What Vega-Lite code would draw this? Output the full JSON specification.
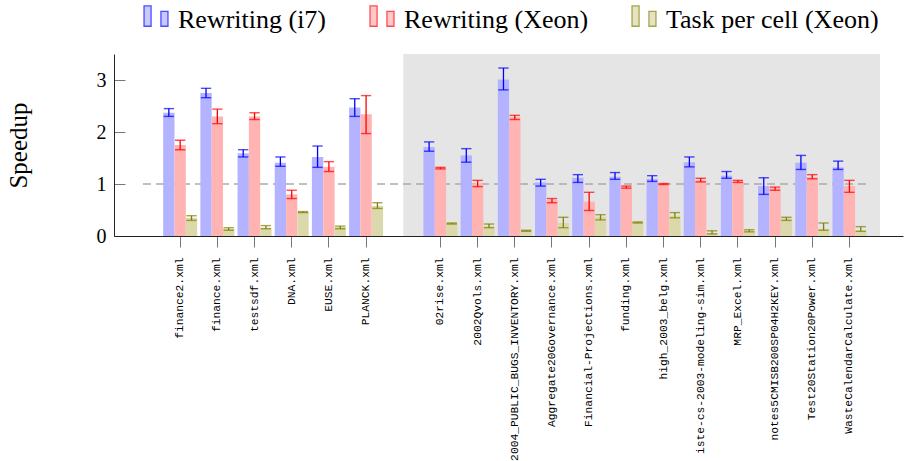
{
  "$schema": "https://vega.github.io/schema/vega-lite/v6.json",
  "width": 789,
  "height": 182,
  "autosize": {"type": "none"},
  "padding": {"left": 114, "top": 54, "right": 1, "bottom": 225},
  "background": "white",
  "config": {
    "view": {"stroke": null},
    "font": "Liberation Serif",
    "legend": {
      "orient": "none",
      "legendX": 28,
      "legendY": -48,
      "direction": "horizontal",
      "padding": 0,
      "columnPadding": 40,
      "labelOffset": 8,
      "symbolSize": 676,
      "symbolType": "M-0.92,-1.08H-0.38V0.48H-0.92Z M0.38,-0.67H0.92V0.48H0.38Z",
      "symbolStrokeWidth": 1.3,
      "labelFont": "Liberation Serif",
      "labelFontSize": 26,
      "labelColor": "#000000",
      "labelLimit": 500
    },
    "axisX": {
      "labelAngle": 270,
      "labelFont": "Liberation Mono",
      "labelFontSize": 11.3,
      "labelColor": "#000000",
      "labelPadding": 10,
      "labelLimit": 500,
      "labelOverlap": false,
      "labelBound": false,
      "tickSize": 11,
      "tickColor": "#777777",
      "domainColor": "#222222",
      "grid": false,
      "title": null
    },
    "axisY": {
      "grid": false,
      "tickSize": -11,
      "tickColor": "#777777",
      "domainColor": "#222222",
      "labelPadding": 19,
      "labelFont": "Liberation Serif",
      "labelFontSize": 20,
      "labelColor": "#000000",
      "titleFont": "Liberation Serif",
      "titleFontSize": 25,
      "titleFontWeight": "normal",
      "titleColor": "#000000",
      "titleAngle": 270,
      "titleX": -87.5,
      "titleY": 91,
      "titleAlign": "center",
      "titleBaseline": "alphabetic"
    }
  },
  "datasets": {
    "bars": [
      {"file": "finance2.xml", "series": "Rewriting (i7)", "v": 2.37, "lo": 2.30, "hi": 2.45},
      {"file": "finance2.xml", "series": "Rewriting (Xeon)", "v": 1.75, "lo": 1.66, "hi": 1.84},
      {"file": "finance2.xml", "series": "Task per cell (Xeon)", "v": 0.35, "lo": 0.30, "hi": 0.39},
      {"file": "finance.xml", "series": "Rewriting (i7)", "v": 2.75, "lo": 2.66, "hi": 2.84},
      {"file": "finance.xml", "series": "Rewriting (Xeon)", "v": 2.30, "lo": 2.16, "hi": 2.44},
      {"file": "finance.xml", "series": "Task per cell (Xeon)", "v": 0.14, "lo": 0.11, "hi": 0.16},
      {"file": "testsdf.xml", "series": "Rewriting (i7)", "v": 1.59, "lo": 1.52, "hi": 1.66},
      {"file": "testsdf.xml", "series": "Rewriting (Xeon)", "v": 2.30, "lo": 2.24, "hi": 2.37},
      {"file": "testsdf.xml", "series": "Task per cell (Xeon)", "v": 0.16, "lo": 0.14, "hi": 0.20},
      {"file": "DNA.xml", "series": "Rewriting (i7)", "v": 1.41, "lo": 1.34, "hi": 1.52},
      {"file": "DNA.xml", "series": "Rewriting (Xeon)", "v": 0.80, "lo": 0.72, "hi": 0.88},
      {"file": "DNA.xml", "series": "Task per cell (Xeon)", "v": 0.46, "lo": 0.45, "hi": 0.47},
      {"file": "EUSE.xml", "series": "Rewriting (i7)", "v": 1.52, "lo": 1.32, "hi": 1.73},
      {"file": "EUSE.xml", "series": "Rewriting (Xeon)", "v": 1.33, "lo": 1.24, "hi": 1.43},
      {"file": "EUSE.xml", "series": "Task per cell (Xeon)", "v": 0.17, "lo": 0.14, "hi": 0.19},
      {"file": "PLANCK.xml", "series": "Rewriting (i7)", "v": 2.47, "lo": 2.30, "hi": 2.64},
      {"file": "PLANCK.xml", "series": "Rewriting (Xeon)", "v": 2.34, "lo": 1.97, "hi": 2.70},
      {"file": "PLANCK.xml", "series": "Task per cell (Xeon)", "v": 0.58, "lo": 0.53, "hi": 0.64},
      {"file": "02rise.xml", "series": "Rewriting (i7)", "v": 1.71, "lo": 1.63, "hi": 1.81},
      {"file": "02rise.xml", "series": "Rewriting (Xeon)", "v": 1.31, "lo": 1.29, "hi": 1.32},
      {"file": "02rise.xml", "series": "Task per cell (Xeon)", "v": 0.24, "lo": 0.23, "hi": 0.25},
      {"file": "2002Qvols.xml", "series": "Rewriting (i7)", "v": 1.55, "lo": 1.42, "hi": 1.68},
      {"file": "2002Qvols.xml", "series": "Rewriting (Xeon)", "v": 1.01, "lo": 0.95, "hi": 1.07},
      {"file": "2002Qvols.xml", "series": "Task per cell (Xeon)", "v": 0.19, "lo": 0.16, "hi": 0.23},
      {"file": "2004_PUBLIC_BUGS_INVENTORY.xml", "series": "Rewriting (i7)", "v": 3.01, "lo": 2.81, "hi": 3.23},
      {"file": "2004_PUBLIC_BUGS_INVENTORY.xml", "series": "Rewriting (Xeon)", "v": 2.29, "lo": 2.24, "hi": 2.32},
      {"file": "2004_PUBLIC_BUGS_INVENTORY.xml", "series": "Task per cell (Xeon)", "v": 0.10, "lo": 0.09, "hi": 0.11},
      {"file": "Aggregate20Governance.xml", "series": "Rewriting (i7)", "v": 1.03, "lo": 0.96, "hi": 1.09},
      {"file": "Aggregate20Governance.xml", "series": "Rewriting (Xeon)", "v": 0.69, "lo": 0.64, "hi": 0.72},
      {"file": "Aggregate20Governance.xml", "series": "Task per cell (Xeon)", "v": 0.25, "lo": 0.16, "hi": 0.36},
      {"file": "Financial-Projections.xml", "series": "Rewriting (i7)", "v": 1.12, "lo": 1.03, "hi": 1.18},
      {"file": "Financial-Projections.xml", "series": "Rewriting (Xeon)", "v": 0.66, "lo": 0.49, "hi": 0.84},
      {"file": "Financial-Projections.xml", "series": "Task per cell (Xeon)", "v": 0.37, "lo": 0.31, "hi": 0.41},
      {"file": "funding.xml", "series": "Rewriting (i7)", "v": 1.14, "lo": 1.09, "hi": 1.22},
      {"file": "funding.xml", "series": "Rewriting (Xeon)", "v": 0.94, "lo": 0.92, "hi": 0.96},
      {"file": "funding.xml", "series": "Task per cell (Xeon)", "v": 0.27, "lo": 0.25, "hi": 0.27},
      {"file": "high_2003_belg.xml", "series": "Rewriting (i7)", "v": 1.10, "lo": 1.05, "hi": 1.16},
      {"file": "high_2003_belg.xml", "series": "Rewriting (Xeon)", "v": 1.00, "lo": 0.99, "hi": 1.01},
      {"file": "high_2003_belg.xml", "series": "Task per cell (Xeon)", "v": 0.39, "lo": 0.35, "hi": 0.45},
      {"file": "iste-cs-2003-modeling-sim.xml", "series": "Rewriting (i7)", "v": 1.42, "lo": 1.33, "hi": 1.52},
      {"file": "iste-cs-2003-modeling-sim.xml", "series": "Rewriting (Xeon)", "v": 1.08, "lo": 1.04, "hi": 1.11},
      {"file": "iste-cs-2003-modeling-sim.xml", "series": "Task per cell (Xeon)", "v": 0.06, "lo": 0.04, "hi": 0.10},
      {"file": "MRP_Excel.xml", "series": "Rewriting (i7)", "v": 1.16, "lo": 1.11, "hi": 1.24},
      {"file": "MRP_Excel.xml", "series": "Rewriting (Xeon)", "v": 1.06, "lo": 1.03, "hi": 1.07},
      {"file": "MRP_Excel.xml", "series": "Task per cell (Xeon)", "v": 0.10, "lo": 0.08, "hi": 0.12},
      {"file": "notes5CMISB200SP04H2KEY.xml", "series": "Rewriting (i7)", "v": 0.96, "lo": 0.80, "hi": 1.12},
      {"file": "notes5CMISB200SP04H2KEY.xml", "series": "Rewriting (Xeon)", "v": 0.92, "lo": 0.88, "hi": 0.94},
      {"file": "notes5CMISB200SP04H2KEY.xml", "series": "Task per cell (Xeon)", "v": 0.34, "lo": 0.30, "hi": 0.36},
      {"file": "Test20Station20Power.xml", "series": "Rewriting (i7)", "v": 1.41, "lo": 1.28, "hi": 1.55},
      {"file": "Test20Station20Power.xml", "series": "Rewriting (Xeon)", "v": 1.13, "lo": 1.10, "hi": 1.18},
      {"file": "Test20Station20Power.xml", "series": "Task per cell (Xeon)", "v": 0.14, "lo": 0.11, "hi": 0.25},
      {"file": "WasteCalendarCalculate.xml", "series": "Rewriting (i7)", "v": 1.32, "lo": 1.28, "hi": 1.44},
      {"file": "WasteCalendarCalculate.xml", "series": "Rewriting (Xeon)", "v": 0.96, "lo": 0.84, "hi": 1.07},
      {"file": "WasteCalendarCalculate.xml", "series": "Task per cell (Xeon)", "v": 0.11, "lo": 0.09, "hi": 0.18}
    ],
    "region": [{"start": " ", "end": "WasteCalendarCalculate.xml"}],
    "ref": [{"start": "finance2.xml", "end": "WasteCalendarCalculate.xml"}]
  },
  "layer": [
    {
      "data": {"name": "region"},
      "mark": {"type": "rect", "fill": "#e5e5e5"},
      "encoding": {
        "x": {"field": "start", "type": "nominal", "bandPosition": 0.5, "title": null,
          "scale": {"domain": ["  ","finance2.xml","finance.xml","testsdf.xml","DNA.xml","EUSE.xml","PLANCK.xml"," ","02rise.xml","2002Qvols.xml","2004_PUBLIC_BUGS_INVENTORY.xml","Aggregate20Governance.xml","Financial-Projections.xml","funding.xml","high_2003_belg.xml","iste-cs-2003-modeling-sim.xml","MRP_Excel.xml","notes5CMISB200SP04H2KEY.xml","Test20Station20Power.xml","WasteCalendarCalculate.xml"], "paddingInner": 0.0855, "paddingOuter": 0.653, "align": 0.247}},
        "x2": {"field": "end", "bandPosition": 1.4},
        "y": {"datum": 0, "type": "quantitative", "scale": {"domain": [0, 3.5]}},
        "y2": {"datum": 3.5}
      }
    },
    {
      "data": {"name": "ref"},
      "mark": {"type": "rule", "stroke": "#aaaaaa", "strokeWidth": 1.5, "strokeDash": [8, 5]},
      "encoding": {
        "x": {"field": "start", "type": "nominal", "bandPosition": -0.594, "title": null,
          "scale": {"domain": ["  ","finance2.xml","finance.xml","testsdf.xml","DNA.xml","EUSE.xml","PLANCK.xml"," ","02rise.xml","2002Qvols.xml","2004_PUBLIC_BUGS_INVENTORY.xml","Aggregate20Governance.xml","Financial-Projections.xml","funding.xml","high_2003_belg.xml","iste-cs-2003-modeling-sim.xml","MRP_Excel.xml","notes5CMISB200SP04H2KEY.xml","Test20Station20Power.xml","WasteCalendarCalculate.xml"], "paddingInner": 0.0855, "paddingOuter": 0.653, "align": 0.247}},
        "x2": {"field": "end", "bandPosition": 1.047},
        "y": {"datum": 1, "type": "quantitative", "scale": {"domain": [0, 3.5]}}
      }
    },
    {
      "data": {"name": "bars"},
      "mark": {"type": "bar"},
      "encoding": {
        "x": {"field": "file", "type": "nominal", "title": null,
          "scale": {"domain": ["  ","finance2.xml","finance.xml","testsdf.xml","DNA.xml","EUSE.xml","PLANCK.xml"," ","02rise.xml","2002Qvols.xml","2004_PUBLIC_BUGS_INVENTORY.xml","Aggregate20Governance.xml","Financial-Projections.xml","funding.xml","high_2003_belg.xml","iste-cs-2003-modeling-sim.xml","MRP_Excel.xml","notes5CMISB200SP04H2KEY.xml","Test20Station20Power.xml","WasteCalendarCalculate.xml"], "paddingInner": 0.0855, "paddingOuter": 0.653, "align": 0.247},
          "axis": {"values": ["finance2.xml","finance.xml","testsdf.xml","DNA.xml","EUSE.xml","PLANCK.xml","02rise.xml","2002Qvols.xml","2004_PUBLIC_BUGS_INVENTORY.xml","Aggregate20Governance.xml","Financial-Projections.xml","funding.xml","high_2003_belg.xml","iste-cs-2003-modeling-sim.xml","MRP_Excel.xml","notes5CMISB200SP04H2KEY.xml","Test20Station20Power.xml","WasteCalendarCalculate.xml"]}},
        "xOffset": {"field": "series", "type": "nominal", "scale": {"domain": ["Rewriting (i7)", "Rewriting (Xeon)", "Task per cell (Xeon)"], "paddingInner": 0, "paddingOuter": 0}},
        "y": {"field": "v", "type": "quantitative", "title": "Speedup", "scale": {"domain": [0, 3.5]}, "axis": {"values": [0, 1, 2, 3], "format": "d"}},
        "fill": {"field": "series", "type": "nominal", "title": null,
          "scale": {"domain": ["Rewriting (i7)", "Rewriting (Xeon)", "Task per cell (Xeon)"], "range": ["#b3b3ff", "#ffb3b3", "#dbd8ab"]}}
      }
    },
    {
      "data": {"name": "bars"},
      "mark": {"type": "rule", "strokeWidth": 1.3},
      "encoding": {
        "x": {"field": "file", "type": "nominal", "title": null,
          "scale": {"domain": ["  ","finance2.xml","finance.xml","testsdf.xml","DNA.xml","EUSE.xml","PLANCK.xml"," ","02rise.xml","2002Qvols.xml","2004_PUBLIC_BUGS_INVENTORY.xml","Aggregate20Governance.xml","Financial-Projections.xml","funding.xml","high_2003_belg.xml","iste-cs-2003-modeling-sim.xml","MRP_Excel.xml","notes5CMISB200SP04H2KEY.xml","Test20Station20Power.xml","WasteCalendarCalculate.xml"], "paddingInner": 0.0855, "paddingOuter": 0.653, "align": 0.247}},
        "xOffset": {"field": "series", "type": "nominal", "scale": {"domain": ["Rewriting (i7)", "Rewriting (Xeon)", "Task per cell (Xeon)"], "paddingInner": 0, "paddingOuter": 0}},
        "y": {"field": "lo", "type": "quantitative", "scale": {"domain": [0, 3.5]}},
        "y2": {"field": "hi"},
        "stroke": {"field": "series", "type": "nominal", "title": null,
          "scale": {"domain": ["Rewriting (i7)", "Rewriting (Xeon)", "Task per cell (Xeon)"], "range": ["#0000ff", "#ff0000", "#808000"]}}
      }
    },
    {
      "data": {"name": "bars"},
      "mark": {"type": "tick", "filled": false, "thickness": 0.1, "size": 9, "strokeWidth": 1.3},
      "encoding": {
        "x": {"field": "file", "type": "nominal", "title": null,
          "scale": {"domain": ["  ","finance2.xml","finance.xml","testsdf.xml","DNA.xml","EUSE.xml","PLANCK.xml"," ","02rise.xml","2002Qvols.xml","2004_PUBLIC_BUGS_INVENTORY.xml","Aggregate20Governance.xml","Financial-Projections.xml","funding.xml","high_2003_belg.xml","iste-cs-2003-modeling-sim.xml","MRP_Excel.xml","notes5CMISB200SP04H2KEY.xml","Test20Station20Power.xml","WasteCalendarCalculate.xml"], "paddingInner": 0.0855, "paddingOuter": 0.653, "align": 0.247}},
        "xOffset": {"field": "series", "type": "nominal", "scale": {"domain": ["Rewriting (i7)", "Rewriting (Xeon)", "Task per cell (Xeon)"], "paddingInner": 0, "paddingOuter": 0}},
        "y": {"field": "lo", "type": "quantitative", "scale": {"domain": [0, 3.5]}},
        "stroke": {"field": "series", "type": "nominal", "title": null,
          "scale": {"domain": ["Rewriting (i7)", "Rewriting (Xeon)", "Task per cell (Xeon)"], "range": ["#0000ff", "#ff0000", "#808000"]}}
      }
    },
    {
      "data": {"name": "bars"},
      "mark": {"type": "tick", "filled": false, "thickness": 0.1, "size": 9, "strokeWidth": 1.3},
      "encoding": {
        "x": {"field": "file", "type": "nominal", "title": null,
          "scale": {"domain": ["  ","finance2.xml","finance.xml","testsdf.xml","DNA.xml","EUSE.xml","PLANCK.xml"," ","02rise.xml","2002Qvols.xml","2004_PUBLIC_BUGS_INVENTORY.xml","Aggregate20Governance.xml","Financial-Projections.xml","funding.xml","high_2003_belg.xml","iste-cs-2003-modeling-sim.xml","MRP_Excel.xml","notes5CMISB200SP04H2KEY.xml","Test20Station20Power.xml","WasteCalendarCalculate.xml"], "paddingInner": 0.0855, "paddingOuter": 0.653, "align": 0.247}},
        "xOffset": {"field": "series", "type": "nominal", "scale": {"domain": ["Rewriting (i7)", "Rewriting (Xeon)", "Task per cell (Xeon)"], "paddingInner": 0, "paddingOuter": 0}},
        "y": {"field": "hi", "type": "quantitative", "scale": {"domain": [0, 3.5]}},
        "stroke": {"field": "series", "type": "nominal", "title": null,
          "scale": {"domain": ["Rewriting (i7)", "Rewriting (Xeon)", "Task per cell (Xeon)"], "range": ["#0000ff", "#ff0000", "#808000"]}}
      }
    }
  ]
}
